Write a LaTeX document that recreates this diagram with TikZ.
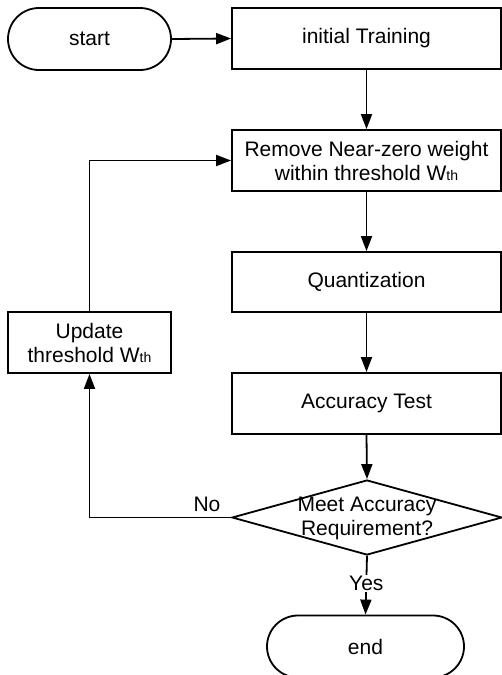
\documentclass[tikz,border=0pt]{standalone}
\usepackage{fontspec}
\setmainfont{Liberation Sans}
\usetikzlibrary{shapes.geometric,shapes.misc,arrows.meta}

% small subscript-like "th" used after W
\newcommand{\wth}{W{\fontsize{14}{14}\selectfont th}}

\begin{document}
\begin{tikzpicture}[x=1pt,y=-1pt,
  every node/.style={font=\fontsize{21}{24}\selectfont},
  procbox/.style={draw, line width=1.8pt, rectangle, minimum width=269pt, minimum height=61pt, inner sep=0pt, align=center},
  sidebox/.style={draw, line width=1.8pt, rectangle, minimum width=163pt, minimum height=61pt, inner sep=0pt, align=center},
  terminal/.style={draw, line width=1.8pt, rounded rectangle, minimum height=62pt, inner sep=0pt},
  decision/.style={draw, line width=1.8pt, diamond, minimum width=270pt, minimum height=75pt, inner sep=0pt},
  flow/.style={line width=1.8pt, -{Triangle[length=15pt,width=11pt]}}
]
\useasboundingbox (0,0) rectangle (502,675);
\clip (0,0) rectangle (502,675);

% main column
\node[terminal, minimum width=163pt] (start) at (89.5,39) {start};
\node[procbox] (init) at (366.5,38.5) {initial Training};
\node[procbox] (remove) at (366.5,160.5) {Remove Near-zero weight\\within threshold \wth};
\node[procbox, minimum height=60pt] (quant) at (366.5,282) {Quantization};
\node[procbox] (acc) at (366.5,403.5) {Accuracy Test};
\node[decision] (dec) at (367,517.5) {};
\node[align=center, inner sep=0pt] (dectext) at (367,518) {Meet Accuracy\\Requirement?};
\node[terminal, minimum width=197pt] (end) at (365.5,646.5) {end};

% feedback branch
\node[sidebox] (update) at (89.5,342.5) {Update\\threshold \wth};

% connectors
\draw[flow] (start.east) -- (init.west);
\draw[flow] (init.south) -- (remove.north);
\draw[flow] (remove.south) -- (quant.north);
\draw[flow] (quant.south) -- (acc.north);
\draw[flow] (acc.south) -- (dec.north);
\draw[flow] (dec.south) -- (end.north)
  node[pos=0.47, fill=white, inner sep=1pt] (yes) {Yes};
\draw[flow] (dec.west) -- (update.south |- dec.west) -- (update.south);
\node[inner sep=0pt] (no) at (207,504) {No};
\draw[flow] (update.north) -- (update.north |- remove.west) -- (remove.west);
\end{tikzpicture}
\end{document}
